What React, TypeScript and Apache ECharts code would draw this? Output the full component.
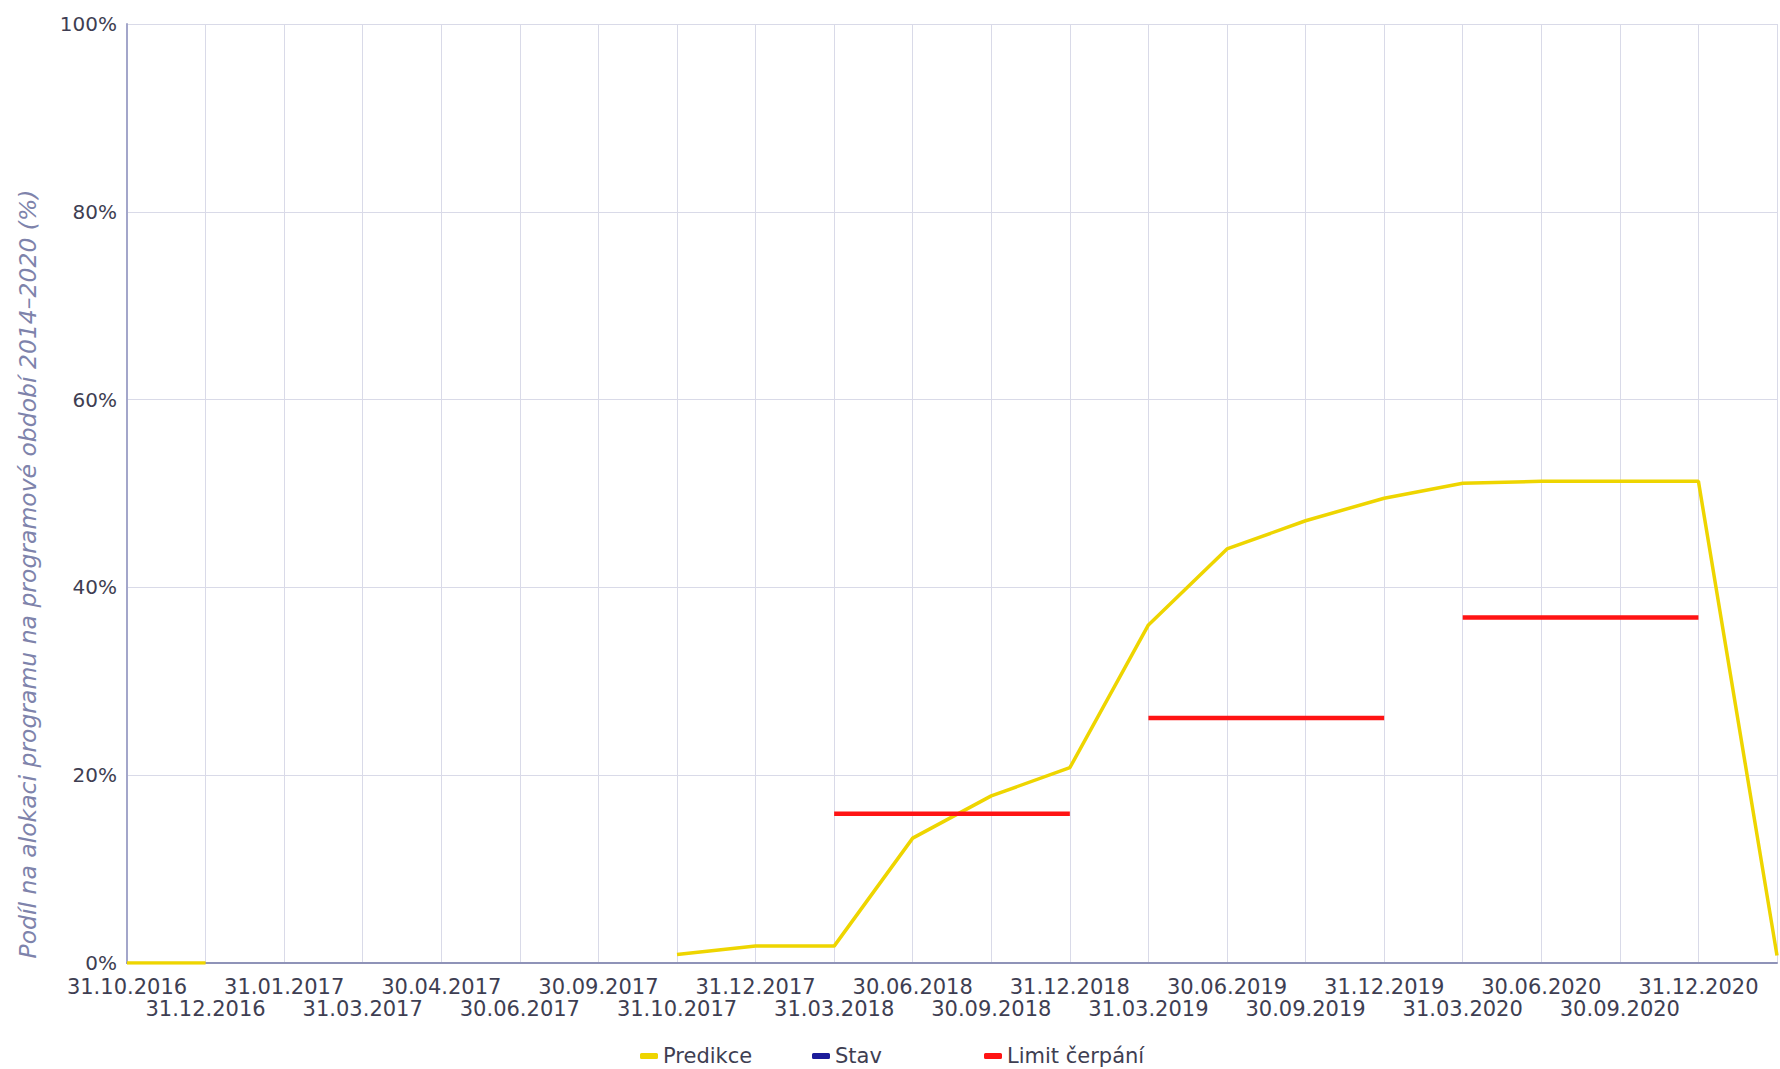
import React, { useEffect, useRef } from "react";
import * as echarts from "echarts";

const categories: string[] = [
  "31.10.2016", "31.12.2016", "31.01.2017", "31.03.2017", "30.04.2017", "30.06.2017",
  "30.09.2017", "31.10.2017", "31.12.2017", "31.03.2018", "30.06.2018", "30.09.2018",
  "31.12.2018", "31.03.2019", "30.06.2019", "30.09.2019", "31.12.2019", "31.03.2020",
  "30.06.2020", "30.09.2020", "31.12.2020", "",
];

const predikce: (number | null)[] = [
  0, 0, null, null, null, null, null, 0.9, 1.8, 1.8, 13.3, 17.8, 20.8, 36.0, 44.1, 47.1,
  49.5, 51.1, 51.3, 51.3, 51.3, 0.8,
];

const stav: (number | null)[] = categories.map(() => null);

const limitFrom: string[] = ["31.03.2018", "31.03.2019", "31.03.2020"];
const limitTo: string[] = ["31.12.2018", "31.12.2019", "31.12.2020"];
const limitValue: number[] = [15.9, 26.1, 36.8];

const yTicks: number[] = [0, 20, 40, 60, 80, 100];

const YELLOW = "#eed500";
const BLUE = "#1c1c9a";
const RED = "#ff1414";

export default function App() {
  const ref = useRef<HTMLDivElement>(null);
  useEffect(() => {
    if (!ref.current) return;
    const chart = echarts.init(ref.current, undefined, { renderer: "svg" });

    const limitSeries = limitValue.map((v, k) => {
      const a = categories.indexOf(limitFrom[k]);
      const b = categories.indexOf(limitTo[k]);
      return {
        name: "Limit čerpání",
        type: "line",
        data: categories.map((_, i) => (i >= a && i <= b ? v : null)),
        showSymbol: false,
        symbol: "none",
        lineStyle: { color: RED, width: 4.5 },
        itemStyle: { color: RED },
        z: 4,
      };
    });

    chart.setOption({
      animation: false,
      grid: { left: 127, right: 2, top: 24, bottom: 106, containLabel: false },
      legend: {
        left: 640,
        top: 1045,
        padding: 0,
        itemWidth: 18,
        itemHeight: 6,
        itemGap: 9,
        icon: "roundRect",
        data: ["Predikce", "Stav", "Limit čerpání"],
        textStyle: {
          fontFamily: "DejaVu Sans",
          fontSize: 21,
          lineHeight: 22,
          color: "#3e3e52",
          width: 140,
          overflow: "truncate",
        },
      },
      graphic: [
        {
          type: "text",
          x: 28,
          y: 574,
          rotation: Math.PI / 2,
          style: {
            text: "Podíl na alokaci programu na programové období 2014–2020 (%)",
            fontFamily: "DejaVu Sans",
            fontStyle: "italic",
            fontSize: 23.5,
            fill: "#7e83ab",
            align: "center",
            verticalAlign: "middle",
          },
        },
      ],
      xAxis: {
        type: "category",
        data: categories,
        boundaryGap: false,
        axisLine: { show: true, lineStyle: { color: "#8f93b8", width: 2 } },
        axisTick: { show: false },
        splitLine: { show: true, interval: 0, lineStyle: { color: "#d9dae8", width: 1 } },
        axisLabel: {
          interval: 0,
          margin: 13,
          fontFamily: "DejaVu Sans",
          fontSize: 21,
          lineHeight: 22,
          color: "#3e3e52",
          formatter: (value: string, index: number) =>
            value === "" ? "" : index % 2 === 1 ? "\n" + value : value,
        },
      },
      yAxis: {
        type: "value",
        min: yTicks[0],
        max: yTicks[yTicks.length - 1],
        interval: yTicks[1] - yTicks[0],
        axisLine: { show: true, lineStyle: { color: "#a3a6ca", width: 2 } },
        axisTick: { show: false },
        splitLine: { show: true, lineStyle: { color: "#d9dae8", width: 1 } },
        axisLabel: {
          margin: 10,
          fontFamily: "DejaVu Sans",
          fontSize: 20,
          color: "#3e3e52",
          formatter: "{value}%",
        },
      },
      series: [
        {
          name: "Predikce",
          type: "line",
          data: predikce,
          showSymbol: false,
          symbol: "none",
          lineStyle: { color: YELLOW, width: 3.5 },
          itemStyle: { color: YELLOW },
          z: 3,
        },
        {
          name: "Stav",
          type: "line",
          data: stav,
          showSymbol: false,
          symbol: "none",
          lineStyle: { color: BLUE, width: 3 },
          itemStyle: { color: BLUE },
        },
        ...limitSeries,
      ],
    });
    return () => chart.dispose();
  }, []);

  return (
    <div
      ref={ref}
      style={{ position: "fixed", left: 0, top: 0, width: 1780, height: 1069, background: "#ffffff" }}
    />
  );
}
